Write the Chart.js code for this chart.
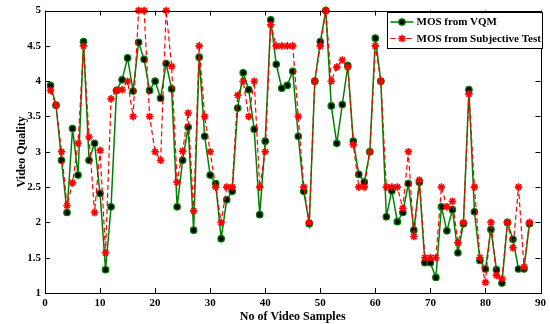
<!DOCTYPE html>
<html>
<head>
<meta charset="utf-8">
<script src="https://cdn.jsdelivr.net/npm/chart.js@4.4.1/dist/chart.umd.min.js"></script>
<style>
  html, body { margin: 0; padding: 0; background: #fff; }
  canvas { display: block; }
</style>
</head>
<body>
<canvas id="mosChart" width="550" height="324"></canvas>
<script>
// MOS per video sample, objective metric vs subjective test
const vqmMos = [
  3.94, 3.66, 2.88, 2.14, 3.33, 2.67, 4.56, 2.88, 3.12, 2.41,
  1.33, 2.22, 3.87, 4.02, 4.33, 3.86, 4.55, 4.31, 3.87, 4.00,
  3.76, 4.25, 3.89, 2.22, 2.88, 3.35, 1.89, 4.34, 3.22, 2.67,
  2.55, 1.77, 2.32, 2.44, 3.62, 4.12, 3.88, 3.32, 2.11, 3.15,
  4.87, 4.24, 3.90, 3.94, 4.14, 3.22, 2.44, 1.98, 4.00, 4.56,
  5.00, 3.65, 3.12, 3.67, 4.22, 3.15, 2.68, 2.57, 3.00, 4.61,
  4.00, 2.08, 2.45, 2.01, 2.14, 2.55, 1.89, 2.57, 1.43, 1.43,
  1.22, 2.22, 1.88, 2.18, 1.57, 1.98, 3.88, 2.15, 1.46, 1.34,
  1.90, 1.33, 1.14, 2.00, 1.76, 1.34, 1.34, 1.98
];
const subjectiveMos = [
  3.87, 3.66, 3.00, 2.24, 2.56, 3.12, 4.50, 3.21, 2.14, 3.02,
  1.57, 3.75, 3.87, 3.88, 4.00, 3.50, 5.00, 5.00, 3.50, 3.00,
  2.88, 5.00, 4.21, 2.57, 3.01, 3.55, 2.16, 4.50, 3.50, 3.00,
  2.50, 2.00, 2.50, 2.50, 3.80, 4.00, 3.50, 4.00, 2.50, 3.00,
  4.80, 4.50, 4.50, 4.50, 4.50, 3.50, 2.50, 2.00, 4.00, 4.50,
  5.00, 4.00, 4.20, 4.30, 4.20, 3.10, 2.50, 2.50, 3.00, 4.50,
  4.00, 2.50, 2.50, 2.50, 2.20, 3.00, 1.80, 2.60, 1.50, 1.50,
  1.50, 2.50, 2.22, 2.30, 1.71, 2.00, 3.82, 2.50, 1.50, 1.15,
  2.00, 1.25, 1.20, 2.00, 1.64, 2.50, 1.37, 2.00
];
const sampleNo = vqmMos.map((_, i) => i + 1);

const xTicks = [0, 10, 20, 30, 40, 50, 60, 70, 80, 90];
const yTicks = [1, 1.5, 2, 2.5, 3, 3.5, 4, 4.5, 5];

const GREEN = "rgb(0,128,0)";
const RED = "rgb(255,0,0)";
const SERIF = "'Liberation Serif', 'Times New Roman', serif";

// box around the axes plus inward tick marks on all four sides, and the legend
const frameAndLegend = {
  id: "frameAndLegend",
  afterDatasetsDraw(chart) {
    const { ctx, chartArea: a, scales } = chart;
    ctx.save();
    ctx.strokeStyle = "#000";
    ctx.lineWidth = 1;
    ctx.strokeRect(Math.round(a.left) + 0.5, Math.round(a.top) + 0.5,
      Math.round(a.right - a.left), Math.round(a.bottom - a.top));

    const len = 5;
    ctx.beginPath();
    xTicks.forEach((v) => {
      const x = Math.round(scales.x.getPixelForValue(v)) + 0.5;
      ctx.moveTo(x, a.bottom); ctx.lineTo(x, a.bottom - len);
      ctx.moveTo(x, a.top); ctx.lineTo(x, a.top + len);
    });
    yTicks.forEach((v) => {
      const y = Math.round(scales.y.getPixelForValue(v)) + 0.5;
      ctx.moveTo(a.left, y); ctx.lineTo(a.left + len, y);
      ctx.moveTo(a.right, y); ctx.lineTo(a.right - len, y);
    });
    ctx.stroke();

    // legend
    const bx = 387.5, by = 12.5, bw = 155, bh = 36;
    ctx.fillStyle = "#fff";
    ctx.fillRect(bx, by, bw, bh);
    ctx.strokeRect(bx, by, bw, bh);

    const ds = chart.data.datasets;
    [[ds[0], by + 9.5], [ds[1], by + 26]].forEach(([d, y]) => {
      ctx.save();
      ctx.strokeStyle = d.borderColor;
      ctx.lineWidth = d.borderWidth;
      ctx.setLineDash(d.borderDash || []);
      ctx.beginPath();
      ctx.moveTo(bx + 3, y);
      ctx.lineTo(bx + 26, y);
      ctx.stroke();
      ctx.setLineDash([]);
      ctx.fillStyle = d.pointBackgroundColor;
      ctx.strokeStyle = d.pointBorderColor;
      ctx.lineWidth = d.pointBorderWidth;
      Chart.helpers.drawPoint(ctx, {
        pointStyle: d.pointStyle,
        radius: d.pointRadius,
        borderWidth: d.pointBorderWidth,
        rotation: 0
      }, bx + 14.5, y);
      ctx.restore();
      ctx.fillStyle = "#000";
      ctx.font = "bold 11px " + SERIF;
      ctx.textBaseline = "middle";
      ctx.fillText(d.label, bx + 29, y + 0.5);
    });
    ctx.restore();
  }
};

new Chart(document.getElementById("mosChart"), {
  type: "line",
  data: {
    datasets: [
      {
        label: "MOS from VQM",
        data: sampleNo.map((x, i) => ({ x, y: vqmMos[i] })),
        borderColor: GREEN,
        borderWidth: 1.5,
        pointStyle: "circle",
        pointRadius: 3.2,
        pointBackgroundColor: "#000",
        pointBorderColor: GREEN,
        pointBorderWidth: 1.3,
        tension: 0,
        clip: false,
        order: 1
      },
      {
        label: "MOS from Subjective Test",
        data: sampleNo.map((x, i) => ({ x, y: subjectiveMos[i] })),
        borderColor: RED,
        borderWidth: 1.2,
        borderDash: [5, 3],
        pointStyle: "star",
        pointRadius: 3.8,
        pointBackgroundColor: RED,
        pointBorderColor: RED,
        pointBorderWidth: 1.6,
        tension: 0,
        clip: false,
        order: 0
      }
    ]
  },
  options: {
    responsive: false,
    animation: false,
    events: [],
    layout: { padding: { left: 0, right: 5, top: 10, bottom: 0 } },
    plugins: {
      legend: { display: false },
      tooltip: { enabled: false }
    },
    scales: {
      x: {
        type: "linear",
        min: 0,
        max: 90,
        afterBuildTicks: (s) => { s.ticks = xTicks.map((v) => ({ value: v })); },
        afterFit: (s) => { s.height = 31; },
        grid: { display: false, drawTicks: false },
        border: { display: false },
        ticks: {
          color: "#000",
          padding: 4,
          maxRotation: 0,
          callback: (v) => String(v),
          font: { family: SERIF, size: 11, weight: "bold" }
        },
        title: {
          display: true,
          text: "No of Video Samples",
          color: "#000",
          padding: { top: 0, bottom: 0 },
          font: { family: SERIF, size: 12, weight: "bold" }
        }
      },
      y: {
        min: 1,
        max: 5,
        afterBuildTicks: (s) => { s.ticks = yTicks.map((v) => ({ value: v })); },
        afterFit: (s) => { s.width = 45; },
        grid: { display: false, drawTicks: false },
        border: { display: false },
        ticks: {
          color: "#000",
          padding: 4,
          callback: (v) => String(v),
          font: { family: SERIF, size: 11, weight: "bold" }
        },
        title: {
          display: true,
          text: "Video Quality",
          color: "#000",
          padding: { top: 15, bottom: 0 },
          font: { family: SERIF, size: 12, weight: "bold" }
        }
      }
    }
  },
  plugins: [frameAndLegend]
});
</script>
</body>
</html>
